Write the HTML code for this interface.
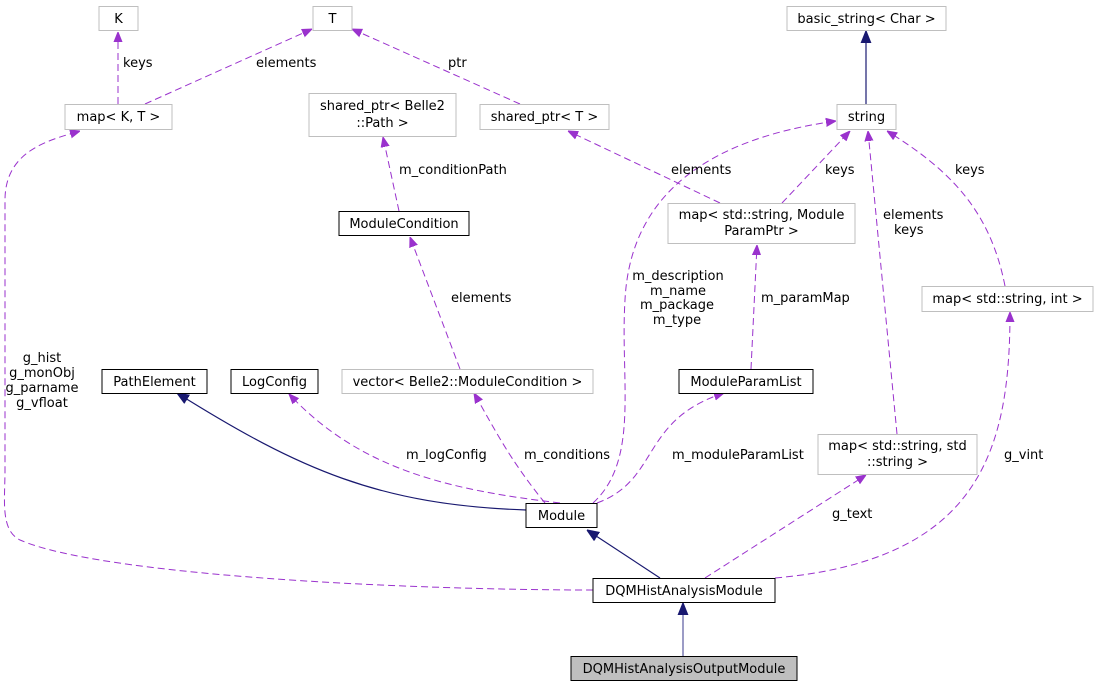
<!DOCTYPE html>
<html><head><meta charset="utf-8"><style>
html,body{margin:0;padding:0;background:#fff;}
svg{display:block;}
text{font-family:"DejaVu Sans","Liberation Sans",sans-serif;font-size:13px;fill:#000;}
.g{fill:#fff;stroke:#bfbfbf;stroke-width:1;}
.b{fill:#fff;stroke:#000;stroke-width:1;}
.d{fill:none;stroke:#9a32cd;stroke-width:1;stroke-dasharray:7,4;}
.s{fill:none;stroke:#191970;stroke-width:1.2;}
.pa{fill:#9a32cd;stroke:#9a32cd;}
.na{fill:#191970;stroke:#191970;}
</style></head><body>
<svg width="1099" height="688" viewBox="0 0 1099 688" xmlns="http://www.w3.org/2000/svg">
<defs>
<marker id="p" viewBox="0 0 10 10" refX="10" refY="5" markerWidth="10" markerHeight="10" markerUnits="userSpaceOnUse" orient="auto"><path d="M0,1 L10,5 L0,9 z" class="pa"/></marker>
<marker id="n" viewBox="0 0 10 10" refX="10" refY="5" markerWidth="12" markerHeight="12" markerUnits="userSpaceOnUse" orient="auto"><path d="M0,1 L10,5 L0,9 z" class="na"/></marker>
</defs>
<path class="d" d="M118,104 L118,32" marker-end="url(#p)"/>
<path class="d" d="M145,104 L312,29" marker-end="url(#p)"/>
<path class="d" d="M520,104 L352,29" marker-end="url(#p)"/>
<path class="s" d="M866,104 L866,31" marker-end="url(#n)"/>
<path class="d" d="M399,211 L383,137" marker-end="url(#p)"/>
<path class="d" d="M782,203 L850,131" marker-end="url(#p)"/>
<path class="d" d="M720,203 L568,131" marker-end="url(#p)"/>
<path class="d" d="M1005,286 C990,210 950,170 887,131" marker-end="url(#p)"/>
<path class="d" d="M897,434 L868,131" marker-end="url(#p)"/>
<path class="d" d="M460,369 L410,237" marker-end="url(#p)"/>
<path class="d" d="M751,369 L757,245" marker-end="url(#p)"/>
<path class="s" d="M526,510 C380,505 300,470 177,393" marker-end="url(#n)"/>
<path class="d" d="M560,503 C450,490 360,470 289,394" marker-end="url(#p)"/>
<path class="d" d="M545,503 C510,460 495,430 474,393" marker-end="url(#p)"/>
<path class="d" d="M597,503 C660,480 640,420 724,393" marker-end="url(#p)"/>
<path class="d" d="M593,503 C640,460 620,380 625,300 C630,200 700,140 836,121" marker-end="url(#p)"/>
<path class="s" d="M660,578 L587,530" marker-end="url(#n)"/>
<path class="d" d="M705,578 L866,475" marker-end="url(#p)"/>
<path class="d" d="M775,578 C980,560 1010,450 1010,312" marker-end="url(#p)"/>
<path class="d" d="M593,590 C400,590 100,575 20,540 C0,530 5,500 5,470 L5,200 C5,150 50,140 80,131" marker-end="url(#p)"/>
<path class="s" d="M683,656 L683,603" marker-end="url(#n)" style="stroke:#5a5aa0"/>
<rect class="g" x="99" y="6.5" width="39" height="24"/><text x="118.5" y="23" text-anchor="middle">K</text>
<rect class="g" x="313" y="6.5" width="39" height="24"/><text x="332.5" y="23" text-anchor="middle">T</text>
<rect class="g" x="787" y="6.5" width="159" height="24"/><text x="866.5" y="23" text-anchor="middle">basic_string&lt; Char &gt;</text>
<rect class="g" x="65" y="104.5" width="107" height="25"/><text x="118.5" y="121" text-anchor="middle">map&lt; K, T &gt;</text>
<rect class="g" x="309" y="93.5" width="147" height="43"/><text x="382.5" y="110" text-anchor="middle">shared_ptr&lt; Belle2</text><text x="382.5" y="127" text-anchor="middle">::Path &gt;</text>
<rect class="g" x="480" y="104.5" width="129" height="25"/><text x="544.5" y="121" text-anchor="middle">shared_ptr&lt; T &gt;</text>
<rect class="g" x="837" y="104.5" width="59" height="25"/><text x="866.5" y="121" text-anchor="middle">string</text>
<rect class="b" x="339" y="211.5" width="130" height="24"/><text x="404" y="228" text-anchor="middle">ModuleCondition</text>
<rect class="g" x="668" y="203.5" width="187" height="40"/><text x="761.5" y="219" text-anchor="middle">map&lt; std::string, Module</text><text x="761.5" y="235" text-anchor="middle">ParamPtr &gt;</text>
<rect class="g" x="922" y="286.5" width="171" height="25"/><text x="1007.5" y="303" text-anchor="middle">map&lt; std::string, int &gt;</text>
<rect class="b" x="102" y="369.5" width="105" height="24"/><text x="154.5" y="386" text-anchor="middle">PathElement</text>
<rect class="b" x="231" y="369.5" width="87" height="24"/><text x="274.5" y="386" text-anchor="middle">LogConfig</text>
<rect class="g" x="342" y="369.5" width="251" height="24"/><text x="467.5" y="386" text-anchor="middle">vector&lt; Belle2::ModuleCondition &gt;</text>
<rect class="b" x="679" y="369.5" width="134" height="24"/><text x="746" y="386" text-anchor="middle">ModuleParamList</text>
<rect class="g" x="818" y="434.5" width="159" height="40"/><text x="897.5" y="450" text-anchor="middle">map&lt; std::string, std</text><text x="897.5" y="466" text-anchor="middle">::string &gt;</text>
<rect class="b" x="526" y="503.5" width="71" height="24"/><text x="561.5" y="520" text-anchor="middle">Module</text>
<rect class="b" x="593" y="578.5" width="182" height="24"/><text x="684" y="595" text-anchor="middle">DQMHistAnalysisModule</text>
<rect x="571" y="656.5" width="226" height="24" fill="#bfbfbf" stroke="#000"/><text x="684" y="673" text-anchor="middle">DQMHistAnalysisOutputModule</text>
<text x="123" y="67">keys</text>
<text x="256" y="67">elements</text>
<text x="448" y="67">ptr</text>
<text x="399" y="174">m_conditionPath</text>
<text x="671" y="174">elements</text>
<text x="825" y="174">keys</text>
<text x="955" y="174">keys</text>
<text x="883" y="219">elements</text>
<text x="894" y="234">keys</text>
<text x="451" y="302">elements</text>
<text x="678" y="280" text-anchor="middle">m_description</text>
<text x="678" y="295" text-anchor="middle">m_name</text>
<text x="677" y="309" text-anchor="middle">m_package</text>
<text x="677" y="324" text-anchor="middle">m_type</text>
<text x="761" y="302">m_paramMap</text>
<text x="42" y="362" text-anchor="middle">g_hist</text>
<text x="42" y="377" text-anchor="middle">g_monObj</text>
<text x="42" y="392" text-anchor="middle">g_parname</text>
<text x="42" y="407" text-anchor="middle">g_vfloat</text>
<text x="406" y="459">m_logConfig</text>
<text x="524" y="459">m_conditions</text>
<text x="672" y="459">m_moduleParamList</text>
<text x="1004" y="459">g_vint</text>
<text x="832" y="518">g_text</text>
</svg>
</body></html>
